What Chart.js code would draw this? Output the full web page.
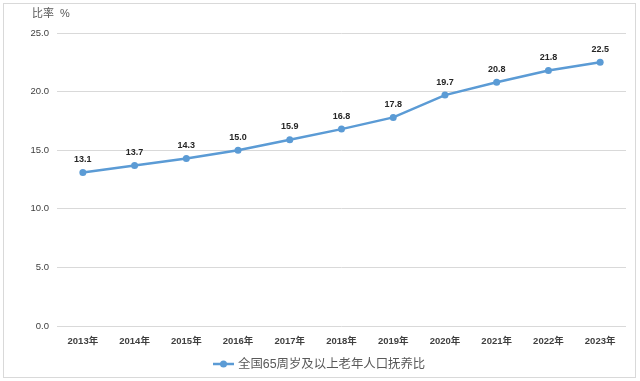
<!DOCTYPE html>
<html><head><meta charset="utf-8">
<script src="https://cdn.jsdelivr.net/npm/chart.js@4/dist/chart.umd.min.js"></script>
<style>html,body{margin:0;padding:0;background:#fff;}#wrap{width:640px;height:381px;position:relative;}</style>
</head><body><div id="wrap"><canvas id="c" width="640" height="381"></canvas></div>
<script>
const categories = ["2013年","2014年","2015年","2016年","2017年","2018年","2019年","2020年","2021年","2022年","2023年"];
const ratioValues = [13.1,13.7,14.3,15.0,15.9,16.8,17.8,19.7,20.8,21.8,22.5];
const seriesName = "全国65周岁及以上老年人口抚养比";
const axisTitle = "比率  %";
const FONT = '"Liberation Sans","Noto Sans CJK SC",sans-serif';
const BLUE = '#5b9bd5';

const extras = {
  id:'extras',
  beforeDraw(chart){
    const c = chart.ctx;
    c.save();
    c.fillStyle='#fff'; c.fillRect(0,0,chart.width,chart.height);
    c.strokeStyle='#d9d9d9'; c.lineWidth=1;
    c.strokeRect(3.5,3.5,632,374);
    c.restore();
  },
  afterDraw(chart){
    const c = chart.ctx;
    c.save();
    c.fillStyle='#595959'; c.font='11px '+FONT; c.textBaseline='middle'; c.textAlign='left';
    c.fillText(axisTitle, 32, 14);
    const meta = chart.getDatasetMeta(0);
    c.fillStyle='#262626'; c.font='bold 9px '+FONT; c.textAlign='center';
    meta.data.forEach((p,i)=>{
      c.fillText(ratioValues[i].toFixed(1), p.x, p.y-13);
    });
    const ly=364;
    c.strokeStyle=BLUE; c.lineWidth=2.5;
    c.beginPath(); c.moveTo(213,ly); c.lineTo(234,ly); c.stroke();
    c.fillStyle=BLUE; c.beginPath(); c.arc(223.5,ly,3.5,0,Math.PI*2); c.fill();
    c.fillStyle='#595959'; c.font='12.4px '+FONT; c.textAlign='left';
    c.fillText(seriesName, 238, ly+1);
    c.restore();
  }
};

new Chart(document.getElementById('c'), {
  type:'line',
  data:{labels:categories, datasets:[{label:seriesName, data:ratioValues, borderColor:BLUE, backgroundColor:BLUE, borderWidth:2.5, pointRadius:3.5, pointHoverRadius:3.5, pointBackgroundColor:BLUE, pointBorderWidth:0, tension:0}]},
  options:{
    responsive:false, animation:false, devicePixelRatio:1,
    layout:{padding:{left:4,right:14,top:33,bottom:25}},
    plugins:{legend:{display:false}, tooltip:{enabled:false}},
    scales:{
      x:{offset:true, grid:{display:false, drawTicks:false}, border:{display:false},
         ticks:{color:'#404040', font:{family:FONT,size:9.5,weight:'bold'}, padding:10, maxRotation:0, autoSkip:false},
         afterFit(s){s.height=30;}},
      y:{min:0,max:25, grid:{color:'#d9d9d9', drawTicks:false, lineWidth:1}, border:{display:false},
         ticks:{stepSize:5, color:'#404040', font:{family:FONT,size:9.5}, padding:8, callback:v=>v.toFixed(1)},
         afterFit(s){s.width=53;}}
    }
  },
  plugins:[extras]
});
</script></body></html>
